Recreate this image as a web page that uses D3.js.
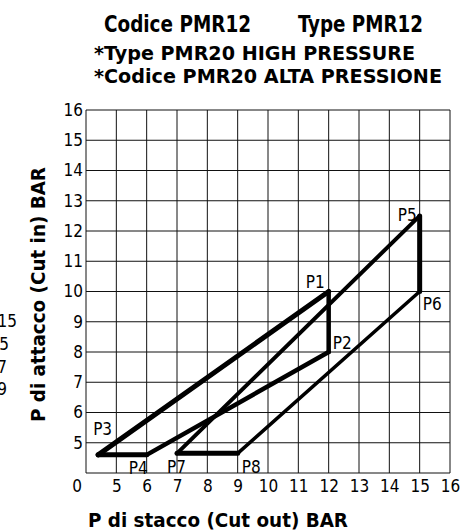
<!DOCTYPE html>
<html>
<head>
<meta charset="utf-8">
<script src="https://cdn.jsdelivr.net/npm/d3@7"></script>
<style>
  body { margin: 0; background: #fff; }
  svg { display: block; }
</style>
</head>
<body>
<svg id="chart" width="461" height="532"></svg>
<script>
// ---------------- data ----------------
const gridValues   = [4, 5, 6, 7, 8, 9, 10, 11, 12, 13, 14, 15, 16];
const xTickLabels  = [5, 6, 7, 8, 9, 10, 11, 12, 13, 14, 15, 16];
const yTickLabels  = [5, 6, 7, 8, 9, 10, 11, 12, 13, 14, 15, 16];
const cornerLabel  = "0";

const pointNames = ["P1", "P2", "P3", "P4", "P5", "P6", "P7", "P8"];
const pointX     = [12,   12,   4.4,  6,    15,   15,   7,    9];
const pointY     = [10,   8,    4.6,  4.6,  12.5, 10,   4.65, 4.65];

const cycleA = ["P3", "P1", "P2", "P4"];
const cycleB = ["P7", "P5", "P6", "P8"];

const titleLeft  = "Codice PMR12";
const titleRight = "Type PMR12";
const subtitle1  = "*Type PMR20 HIGH PRESSURE";
const subtitle2  = "*Codice PMR20 ALTA PRESSIONE";
const xAxisTitle = "P di stacco (Cut out) BAR";
const yAxisTitle = "P di attacco (Cut in) BAR";
const sideFragments = ["15", "5", "7", "9"];

// ---------------- layout / style ----------------
const svg = d3.select("#chart");
svg.append("rect").attr("width", 461).attr("height", 532).attr("fill", "#fff");

const x = d3.scaleLinear().domain([4, 16]).range([86, 450]);
const y = d3.scaleLinear().domain([4, 16]).range([473, 110]);

const tickFont = "'DejaVu Sans Condensed', 'DejaVu Sans', sans-serif";

// grid
const gGrid = svg.append("g");
gGrid.selectAll("line.v").data(gridValues).join("line")
  .attr("x1", d => x(d)).attr("x2", d => x(d))
  .attr("y1", y(4)).attr("y2", y(16))
  .attr("stroke", "#111").attr("stroke-width", 1);
gGrid.selectAll("line.h").data(gridValues).join("line")
  .attr("y1", d => y(d)).attr("y2", d => y(d))
  .attr("x1", x(4)).attr("x2", x(16))
  .attr("stroke", "#111").attr("stroke-width", 1);

// axes labels via d3 axes
const xAxis = d3.axisBottom(x).tickValues(xTickLabels).tickSize(0).tickPadding(7)
  .tickFormat(d3.format("d"));
const gx = svg.append("g").attr("transform", `translate(0,${y(4)})`).call(xAxis);
gx.select(".domain").remove();
gx.selectAll("text").attr("font-family", tickFont).attr("font-size", 17).attr("fill", "#000");

const yAxis = d3.axisLeft(y).tickValues(yTickLabels).tickSize(0).tickPadding(3)
  .tickFormat(d3.format("d"));
const gy = svg.append("g").attr("transform", `translate(${x(4)},0)`).call(yAxis);
gy.select(".domain").remove();
gy.selectAll("text").attr("font-family", tickFont).attr("font-size", 17).attr("fill", "#000");

svg.append("text").text(cornerLabel)
  .attr("x", x(4) - 9).attr("y", y(4) + 19)
  .attr("text-anchor", "middle")
  .attr("font-family", tickFont).attr("font-size", 17);

// side fragments (cut off at left edge)
const fragPos = [[17, 327], [9, 350], [7, 373], [7, 395]];
svg.selectAll("text.frag").data(sideFragments).join("text")
  .attr("class", "frag")
  .attr("x", (d, i) => fragPos[i][0]).attr("y", (d, i) => fragPos[i][1])
  .attr("text-anchor", "end")
  .attr("font-family", tickFont).attr("font-size", 17)
  .text(d => d);

// polygons
const pts = {};
pointNames.forEach((n, i) => pts[n] = [x(pointX[i]), y(pointY[i])]);
const line = d3.line();
const widthsA = [5, 4.5, 4.5, 5];
const widthsB = [4, 5, 3.5, 5];
function drawCycle(cycle, widths) {
  const segs = cycle.map((n, i) => [pts[n], pts[cycle[(i + 1) % cycle.length]]]);
  svg.append("g").selectAll("path").data(segs).join("path")
    .attr("d", d => line(d))
    .attr("fill", "none").attr("stroke", "#000")
    .attr("stroke-width", (d, i) => widths[i])
    .attr("stroke-linecap", "round").attr("stroke-linejoin", "round");
}
drawCycle(cycleA, widthsA);
drawCycle(cycleB, widthsB);

// point labels
const labelPlace = {
  P1: [-4, -4, "end"], P2: [4, -3, "start"], P3: [-5, -20, "start"],
  P4: [1, 19, "end"], P5: [-3, 5, "end"], P6: [3, 18, "start"],
  P7: [-10, 20, "start"], P8: [4, 20, "start"]
};
svg.selectAll("text.pl").data(pointNames).join("text")
  .attr("class", "pl")
  .attr("x", d => pts[d][0] + labelPlace[d][0])
  .attr("y", d => pts[d][1] + labelPlace[d][1])
  .attr("text-anchor", d => labelPlace[d][2])
  .attr("font-family", tickFont).attr("font-size", 17)
  .text(d => d);

// titles
const boldFont = "'DejaVu Sans Condensed', 'DejaVu Sans', sans-serif";
function fitText(sel, w) { sel.attr("textLength", w).attr("lengthAdjust", "spacingAndGlyphs"); }
svg.append("text").text(titleLeft).attr("x", 104).attr("y", 32)
  .attr("font-family", boldFont).attr("font-weight", "bold").attr("font-size", 23)
  .call(fitText, 147);
svg.append("text").text(titleRight).attr("x", 298).attr("y", 32)
  .attr("font-family", boldFont).attr("font-weight", "bold").attr("font-size", 23)
  .call(fitText, 125);
svg.append("text").text(subtitle1).attr("x", 94).attr("y", 60)
  .attr("font-family", "'DejaVu Sans', sans-serif").attr("font-weight", "bold").attr("font-size", 19)
  .call(fitText, 321);
svg.append("text").text(subtitle2).attr("x", 94).attr("y", 83)
  .attr("font-family", "'DejaVu Sans', sans-serif").attr("font-weight", "bold").attr("font-size", 19)
  .call(fitText, 348);

// axis titles
svg.append("text").text(xAxisTitle).attr("x", 88).attr("y", 527)
  .attr("font-family", boldFont).attr("font-weight", "bold").attr("font-size", 20)
  .call(fitText, 260);
svg.append("text").text(yAxisTitle)
  .attr("transform", `translate(45,${(167 + 422) / 2}) rotate(-90)`)
  .attr("text-anchor", "middle")
  .attr("font-family", boldFont).attr("font-weight", "bold").attr("font-size", 19)
  .call(fitText, 255);
</script>
</body>
</html>
